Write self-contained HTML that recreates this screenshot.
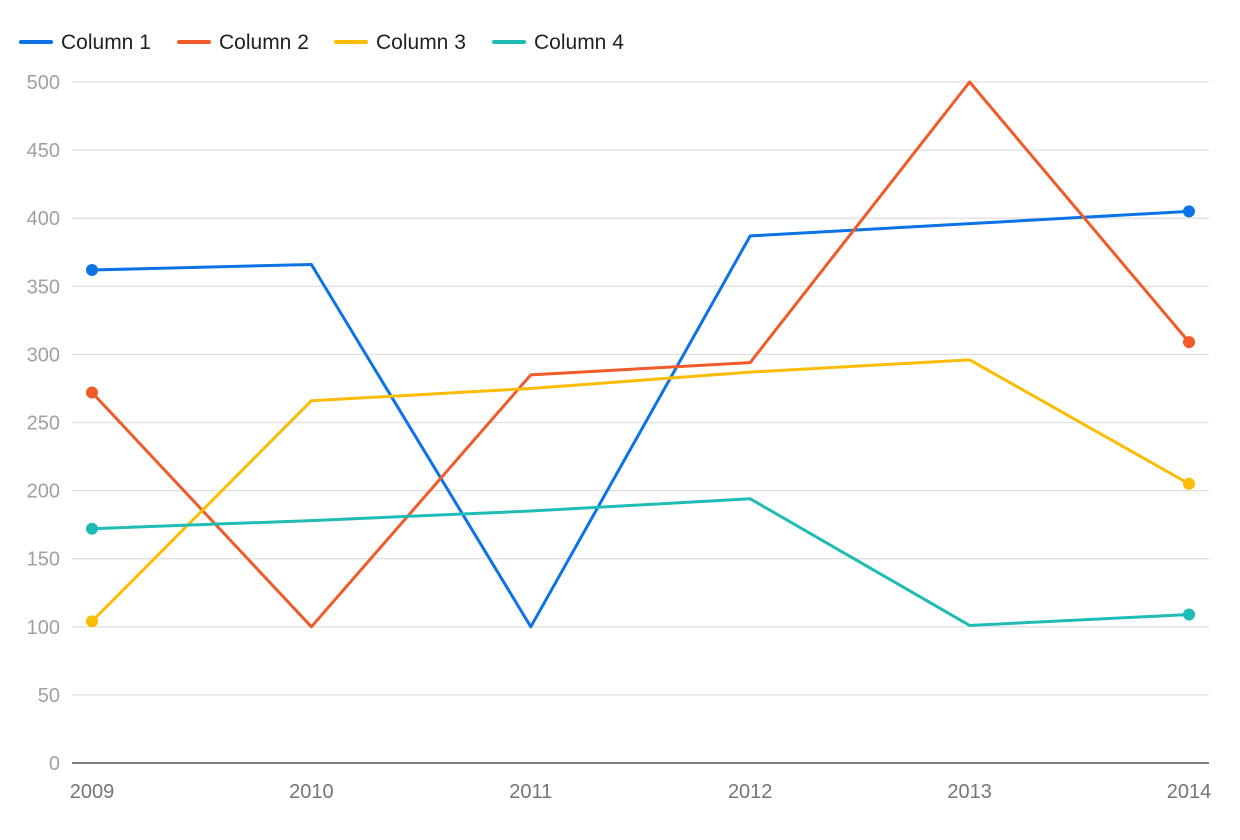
<!DOCTYPE html>
<html><head><meta charset="utf-8"><style>
body{margin:0;background:#fff;}
svg{display:block;font-family:"Liberation Sans",sans-serif;}
</style></head><body>
<svg id="chart" width="1240" height="840" viewBox="0 0 1240 840">
<g id="legend"></g>
<g id="grid"></g>
<g id="yticks"></g>
<g id="xticks"></g>
<g id="series"></g>
</svg>
<script>
const categories=["2009","2010","2011","2012","2013","2014"];
const seriesNames=["Column 1","Column 2","Column 3","Column 4"];
const col1=[362,366,100,387,396,405];
const col2=[272,100,285,294,500,309];
const col3=[104,266,275,287,296,205];
const col4=[172,178,185,194,101,109];
const yTicks=[0,50,100,150,200,250,300,350,400,450,500];
const colors=["#0b73e6","#f15a29","#fbbc04","#1fbcb6"];
const allSeries=[col1,col2,col3,col4];
const NS="http://www.w3.org/2000/svg";
const x0=92,x1=1189,yBase=763,yTop=82,yMax=500;
const xs=i=>x0+i*(x1-x0)/(categories.length-1);
const ys=v=>yBase-v*(yBase-yTop)/yMax;
function mk(tag,attrs,parent){const e=document.createElementNS(NS,tag);for(const k in attrs)e.setAttribute(k,attrs[k]);parent.appendChild(e);return e;}
const grid=document.getElementById('grid'),yt=document.getElementById('yticks'),xt=document.getElementById('xticks'),sg=document.getElementById('series'),lg=document.getElementById('legend');
yTicks.forEach(v=>{
  if(v>0){const l=mk('line',{x1:72,x2:1209,y1:ys(v),y2:ys(v),stroke:'#e0e0e0','stroke-width':1.3},grid);
  
  }
  const t=mk('text',{x:60,y:ys(v)+7,'text-anchor':'end','font-size':20,fill:'#a0a0a0'},yt);
  t.textContent=v;
  
  
});
const base=mk('line',{x1:72,x2:1209,y1:yBase,y2:yBase,stroke:'#333','stroke-width':1.3},grid);


categories.forEach((c,i)=>{
  const t=mk('text',{x:xs(i),y:798,'text-anchor':'middle','font-size':20,fill:'#757575'},xt);
  t.textContent=c;
  
  
});
allSeries.forEach((s,k)=>{
  const p=mk('polyline',{points:s.map((v,i)=>xs(i)+','+ys(v)).join(' '),fill:'none',stroke:colors[k],'stroke-width':3,'stroke-linejoin':'round'},sg);
  
  
  [0,s.length-1].forEach(i=>{
    const c=mk('circle',{cx:xs(i),cy:ys(s[i]),r:6,fill:colors[k]},sg);
    
    
  });
});
const lx=[21,179,336,494];
seriesNames.forEach((n,k)=>{
  const g=mk('g',{},lg);
  
  
  mk('line',{x1:lx[k],x2:lx[k]+30,y1:42,y2:42,stroke:colors[k],'stroke-width':4,'stroke-linecap':'round'},g);
  const t=mk('text',{x:lx[k]+40,y:49,'font-size':21,fill:'#212121'},g);
  t.textContent=n;
});
</script>
</body></html>
